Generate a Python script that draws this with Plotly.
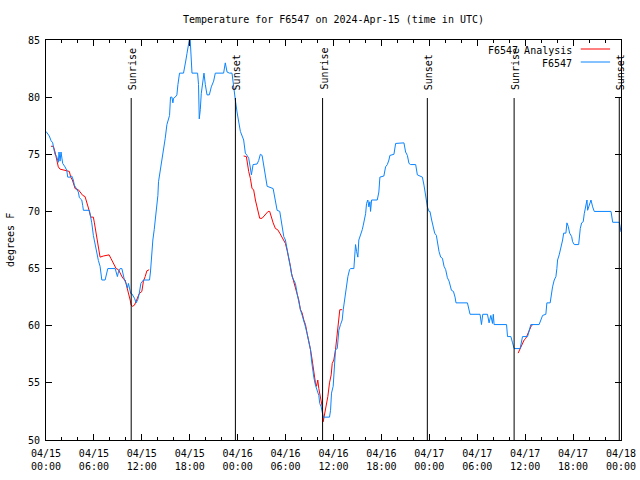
import pandas as pd
import plotly.graph_objects as go

BASE = pd.Timestamp("2024-04-15 00:00")

# Observed F6547 temperatures (hours since 04/15 00:00 UTC, degrees F)
obs_hours = [0.0, 0.41, 0.63, 0.84, 1.0, 1.13, 1.34, 1.54, 1.63, 1.76, 1.88, 2.09, 2.38, 2.6, 2.72,
             3.01, 3.22, 3.42, 3.55, 3.76, 4.05, 4.18, 4.48, 4.6, 4.68, 5.43, 5.61, 5.73, 5.93, 6.06,
             6.18, 6.36, 6.56, 6.77, 6.9, 6.99, 7.4, 7.61, 7.74, 8.66, 8.78, 8.94, 9.07, 9.28, 9.5,
             9.62, 9.82, 10.04, 10.2, 10.32, 10.45, 10.62, 10.75, 11.08, 11.29, 11.5, 11.67, 11.88,
             12.2, 12.96, 13.08, 13.26, 13.38, 13.55, 13.67, 13.89, 14.01, 14.09, 14.3, 14.51, 14.71,
             14.93, 15.14, 15.27, 15.47, 15.59, 15.77, 15.89, 15.97, 16.18, 16.39, 16.52, 16.72,
             17.22, 17.35, 17.52, 17.65, 17.78, 17.94, 18.06, 18.19, 18.28, 18.98, 19.1, 19.19,
             19.32, 19.44, 19.66, 19.78, 19.95, 20.16, 20.45, 20.7, 20.99, 21.2, 22.24, 22.37,
             22.45, 22.67, 22.96, 23.29, 23.5, 23.71, 23.92, 24.12, 24.34, 24.75, 24.96, 25.18,
             25.38, 25.59, 25.72, 25.93, 26.43, 26.63, 26.84, 27.06, 27.26, 27.47, 27.69, 28.44,
             28.64, 28.94, 29.27, 29.44, 29.57, 29.77, 29.98, 30.19, 30.39, 30.61, 30.82, 31.02,
             31.23, 31.45, 31.65, 31.86, 32.08, 32.28, 32.49, 32.7, 32.9, 33.12, 33.24, 33.33,
             33.53, 33.74, 33.96, 34.16, 34.28, 34.46, 34.71, 35.5, 35.63, 35.75, 35.96, 36.13,
             36.25, 36.47, 36.67, 36.88, 37.09, 37.22, 37.38, 37.51, 37.63, 37.8, 38.01, 38.13,
             38.55, 38.67, 38.76, 38.89, 39.05, 39.17, 39.39, 39.6, 39.73, 39.89, 40.02, 40.14,
             40.3, 40.43, 40.56, 40.64, 40.77, 41.48, 41.68, 41.81, 42.31, 42.52, 42.74, 42.94,
             43.06, 43.57, 43.78, 44.82, 45.03, 45.25, 45.45, 45.66, 46.29, 46.5, 47.13, 47.33,
             47.54, 47.76, 47.96, 48.08, 48.29, 48.51, 48.67, 48.88, 49.01, 49.21, 49.42, 49.64,
             49.84, 50.05, 50.26, 50.47, 50.77, 51.02, 51.22, 51.34, 52.77, 52.97, 53.1, 54.35,
             54.53, 54.69, 55.28, 55.48, 55.7, 55.91, 56.01, 56.11, 57.67, 57.79, 58.21, 58.42,
             58.62, 59.37, 59.59, 59.67, 60.3, 60.5, 60.71, 61.75, 61.97, 62.18, 62.59, 62.72,
             63.13, 63.22, 63.43, 63.64, 63.85, 63.97, 64.06, 64.26, 64.48, 64.69, 64.82, 65.1,
             65.23, 65.39, 65.57, 65.82, 65.94, 66.15, 66.7, 66.77, 66.9, 67.07, 67.27, 67.4,
             67.61, 67.74, 67.82, 68.03, 68.24, 68.45, 68.65, 70.75, 70.96, 71.79, 72.0]
obs_temp = [77.0, 76.6, 76.2, 76.0, 75.4, 75.0, 74.8, 74.3, 75.2, 74.4, 75.2, 74.2, 73.9, 73.6, 73.0,
            73.0, 73.1, 72.75, 72.3, 72.0, 71.7, 71.2, 71.0, 70.5, 70.1, 70.1, 69.5, 69.0, 67.9, 67.4,
            66.8, 66.2, 65.7, 65.2, 64.6, 64.0, 64.0, 64.6, 65.0, 65.0, 64.6, 64.3, 64.7, 65.0, 65.0,
            64.5, 64.0, 63.7, 63.3, 63.7, 63.4, 62.8, 62.8, 62.4, 62.0, 62.3, 62.8, 63.7,
            64.0, 64.0, 64.7, 66.5, 67.5, 68.4, 69.1, 70.6, 71.4, 72.6, 73.5, 74.5, 75.4,
            76.4, 77.6, 78.0, 78.4, 80.0, 80.0, 79.5, 79.9, 80.0, 80.2, 81.1, 82.1,
            82.1, 82.5, 83.25, 83.8, 84.4, 85.0, 85.0, 83.7, 82.1, 82.1, 81.1, 78.1,
            78.9, 80.3, 81.4, 82.1, 81.1, 80.2, 80.2, 80.9, 81.4, 82.1, 82.1, 82.7,
            83.0, 82.2, 82.1, 82.1, 80.6, 79.75, 78.7, 77.7, 77.0, 76.25, 75.1, 74.9,
            74.65, 73.8, 73.2, 74.1, 74.15, 74.45, 75.0, 74.9, 74.1, 73.0, 72.2, 72.0,
            71.3, 70.1, 70.0, 69.25, 68.4, 67.8, 67.5, 66.6, 65.9, 65.0, 64.3, 64.0,
            63.7, 62.8, 62.0, 61.4, 60.9, 60.5, 59.9, 59.3, 58.75, 57.9, 57.0, 56.4,
            55.5, 54.8, 54.2, 53.9, 53.2, 52.9, 52.0, 52.0, 52.6, 54.1, 54.7, 56.7,
            57.9, 58.0, 59.6, 60.1, 60.5, 61.4, 62.25, 62.8, 63.7, 64.3, 64.9, 65.0,
            65.0, 66.3, 67.1, 66.5, 66.0, 67.5, 67.9, 68.4, 68.8, 69.25, 69.8, 70.7,
            71.0, 70.4, 70.85, 70.0, 71.0, 71.0, 71.7, 73.0, 73.1, 73.9, 74.1, 74.5,
            74.9, 75.0, 75.95, 76.0, 75.2, 74.9, 74.2, 74.1, 74.1, 73.2, 73.0, 72.3,
            71.3, 70.4, 70.0, 70.0, 69.25, 68.5, 68.1, 67.9, 67.2, 66.5, 66.0, 65.9,
            65.2, 64.9, 64.2, 63.9, 63.1, 63.0, 62.5, 62.0, 62.0, 61.2, 61.0, 61.0,
            60.1, 61.0, 61.0, 60.25, 60.9, 60.2, 61.0, 60.1, 60.1, 59.05, 59.05, 58.5,
            58.0, 58.0, 58.6, 59.05, 59.05, 59.6, 60.1, 60.1, 60.5, 60.9, 61.0, 62.0,
            62.0, 62.5, 63.4, 64.0, 64.3, 65.0, 65.75, 66.2, 66.8, 67.5, 68.1, 68.1,
            69.0, 68.7, 68.1, 67.8, 67.35, 67.1, 67.1, 67.8, 68.5, 69.0, 69.1, 69.8,
            70.7, 71.0, 70.1, 70.6, 71.0, 70.4, 70.0, 70.0, 69.05, 69.05, 68.2]

# F6547 Analysis (three separate segments)
ana1_hours = [0.63, 0.92, 1.13, 1.34, 1.54, 1.76, 2.38, 2.6, 2.92, 3.1, 3.3, 3.51, 3.64, 4.05, 4.27,
              4.6, 4.89, 5.11, 5.31, 5.61, 5.93, 6.06, 6.27, 6.44, 6.56, 6.77, 7.19, 7.61, 7.9, 8.12,
              8.44, 8.78, 9.07, 9.28, 9.62, 9.91, 10.2, 10.32, 10.54, 10.66, 10.83, 11.08, 11.38,
              11.67, 12.0, 12.2, 12.42, 12.63, 12.92]
ana1_temp = [75.7, 75.7, 75.2, 74.65, 73.9, 73.7, 73.6, 73.5, 73.5, 73.0, 72.75, 72.3, 72.0, 71.9, 71.7,
             71.4, 71.3, 70.85, 70.3, 69.5, 69.5, 69.0, 68.1, 67.2, 66.6, 66.0, 66.1, 66.2, 66.2, 65.9,
             65.5, 65.0, 64.9, 64.6, 64.15, 64.0, 63.3, 62.8, 62.25, 61.8, 61.7, 61.8, 62.3,
             62.8, 63.0, 63.9, 64.3, 64.8, 64.9]
ana2_hours = [24.75, 25.09, 25.38, 25.59, 25.8, 26.0, 26.22, 26.43, 26.63, 26.76, 27.06, 27.47, 27.81,
              28.01, 28.19, 28.44, 28.73, 29.01, 29.27, 29.48, 29.69, 29.98, 30.19, 30.39, 30.61,
              30.73, 30.95, 31.23, 31.45, 31.65, 31.86, 32.08, 32.28, 32.49, 32.7, 32.9, 33.12,
              33.33, 33.53, 33.74, 33.87, 34.03, 34.16, 34.37, 34.59, 34.71, 34.87, 35.12, 35.29,
              35.5, 35.71, 35.84, 36.04, 36.25, 36.38, 36.54, 36.67, 36.79, 37.09]
ana2_temp = [74.85, 74.8, 73.5, 72.9, 72.0, 71.9, 71.0, 70.4, 69.8, 69.4, 69.4, 69.7, 70.0,
             70.0, 69.5, 69.0, 68.5, 68.4, 68.1, 67.8, 67.5, 67.2, 66.6, 66.0, 65.2,
             64.6, 64.0, 63.4, 62.8, 62.25, 61.4, 61.1, 60.5, 60.1, 59.3, 58.75, 57.9,
             57.0, 55.8, 55.0, 54.7, 55.25, 54.5, 53.8, 52.9, 51.6, 52.2, 52.9, 53.8,
             55.0, 55.7, 56.7, 57.0, 57.9, 58.75, 59.6, 60.5, 61.4, 61.4]
ana3_hours = [59.12, 59.37, 59.67, 59.87, 60.09, 60.3, 60.5, 60.71, 60.92]
ana3_temp = [57.6, 58.0, 58.5, 58.75, 58.9, 59.3, 59.6, 59.9, 60.1]

sun_times = ["2024-04-15 10:40", "2024-04-15 23:43", "2024-04-16 10:38",
             "2024-04-16 23:45", "2024-04-17 10:37", "2024-04-17 23:47"]
sun_labels = ["Sunrise", "Sunset", "Sunrise", "Sunset", "Sunrise", "Sunset"]

x_start = "2024-04-15 00:00"
x_end = "2024-04-18 00:00"
y_range = [50, 85]

FONT = "DejaVu Sans Mono"
RED = "#ff0000"
BLUE = "#0a84ff"


def to_time(hours):
    return [BASE + pd.Timedelta(hours=h) for h in hours]


ana_x, ana_y = [], []
for hs, ts in [(ana1_hours, ana1_temp), (ana2_hours, ana2_temp), (ana3_hours, ana3_temp)]:
    if ana_x:
        ana_x.append(None)
        ana_y.append(None)
    ana_x += to_time(hs)
    ana_y += ts

fig = go.Figure()
fig.add_trace(go.Scatter(x=ana_x, y=ana_y, mode="lines", name="F6547 Analysis",
                         line=dict(color=RED, width=1), connectgaps=False))
fig.add_trace(go.Scatter(x=to_time(obs_hours), y=obs_temp, mode="lines", name="F6547",
                         line=dict(color=BLUE, width=1)))

# Sunrise / sunset markers
for t, lab in zip(sun_times, sun_labels):
    fig.add_shape(type="line", xref="x", yref="paper", x0=t, x1=t, y0=0, y1=0.855,
                  line=dict(color="black", width=1))
    fig.add_annotation(x=t, y=0.87, xref="x", yref="paper", text=lab, textangle=-90,
                       showarrow=False, xanchor="center", yanchor="bottom", xshift=1,
                       font=dict(family=FONT, size=10, color="black"))

# gnuplot-style legend (text then line sample)
legend_items = [("F6547 Analysis", RED, 0.975), ("F6547", BLUE, 0.9425)]
for name, col, yy in legend_items:
    fig.add_annotation(x=0.919, y=yy, xref="paper", yref="paper", text=name, showarrow=False,
                       xanchor="right", yanchor="middle", font=dict(family=FONT, size=10, color="black"))
    fig.add_shape(type="line", xref="paper", yref="paper", x0=0.930, x1=0.981, y0=yy + 0.0025,
                  y1=yy + 0.0025, line=dict(color=col, width=1))

fig.add_annotation(x=-0.0626, y=0.5, xref="paper", yref="paper", text="degrees F", textangle=-90,
                   showarrow=False, xanchor="center", yanchor="middle",
                   font=dict(family=FONT, size=10, color="black"))

tickvals = pd.date_range(x_start, x_end, freq="6h")
ticktext = [t.strftime("%m/%d") + "<br>" + t.strftime("%H:%M") for t in tickvals]

fig.update_layout(
    width=640, height=480,
    margin=dict(l=46, r=19, t=40, b=40, autoexpand=False),
    paper_bgcolor="white", plot_bgcolor="white",
    showlegend=False,
    font=dict(family=FONT, size=10, color="black"),
    title=dict(text="Temperature for F6547 on 2024-Apr-15 (time in UTC)", x=0.5, xref="paper",
               xanchor="center", y=1 - 19 / 480, yanchor="middle",
               font=dict(family=FONT, size=10, color="black")),
    xaxis=dict(range=[x_start, x_end], tickvals=tickvals, ticktext=ticktext,
               ticks="inside", ticklen=6, tickcolor="black", showline=True, linecolor="black",
               linewidth=1, mirror="ticks", showgrid=False, zeroline=False, ticklabelstandoff=4,
               minor=dict(dtick=2 * 3600000, ticks="inside", ticklen=3, tickcolor="black", showgrid=False),
               tickfont=dict(family=FONT, size=10, color="black")),
    yaxis=dict(range=y_range, dtick=5, ticks="inside", ticklen=6, tickcolor="black",
               showline=True, linecolor="black", linewidth=1, mirror="ticks", showgrid=False,
               zeroline=False, ticklabelstandoff=3, tickfont=dict(family=FONT, size=10, color="black")),
)

fig.write_html("out.html", config={"displayModeBar": False},
               post_script="document.body.style.margin='0';document.body.style.padding='0';")
